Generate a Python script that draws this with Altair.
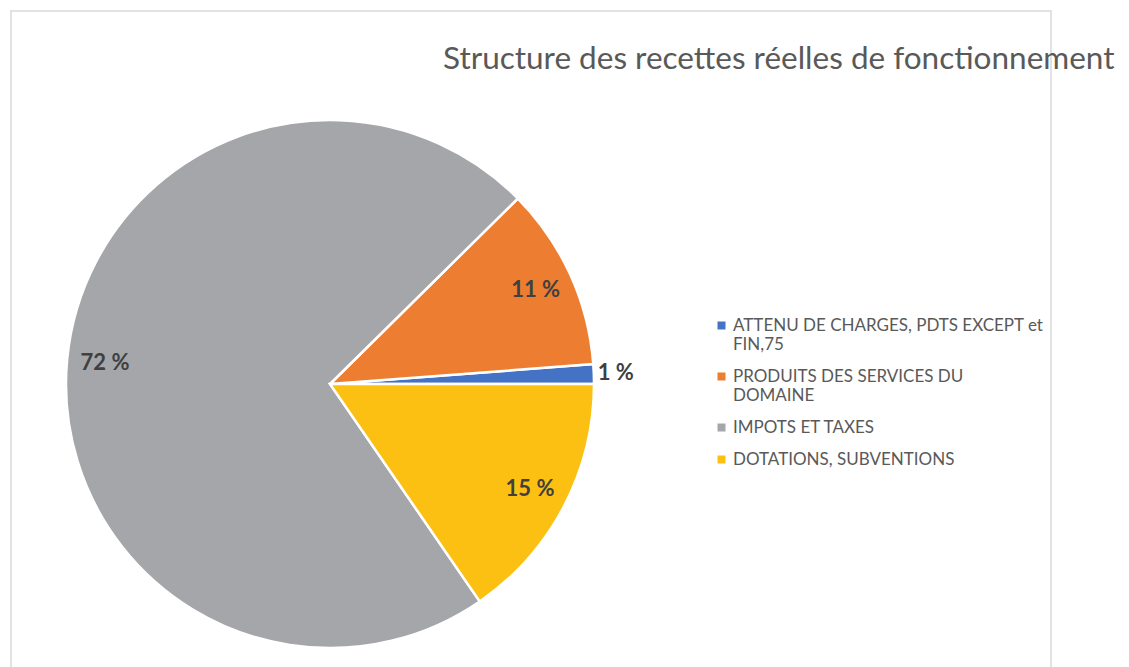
import math
import altair as alt
import pandas as pd

# ---- data ----
categories = [
    "ATTENU DE CHARGES, PDTS EXCEPT et\nFIN,75",
    "PRODUITS DES SERVICES DU\nDOMAINE",
    "IMPOTS ET TAXES",
    "DOTATIONS, SUBVENTIONS",
]
shares = [1.2, 11.2, 72.2, 15.4]          # percent
draw_order = [4, 3, 2, 1]                  # clockwise from 3 o'clock
colors = ["#4472C4", "#ED7D31", "#A5A6A9", "#FCC013"]
title_text = "Structure des recettes réelles de fonctionnement"

df = pd.DataFrame({"category": categories, "share": shares, "draw": draw_order})

W, H = 1113, 659
CX, CY = 322, 376          # pie centre in view coords
R = 264
START = math.pi / 2        # first slice starts at 3 o'clock

theta = alt.Theta("share:Q", stack=True,
                  scale=alt.Scale(range=[START, START + 2 * math.pi]))
color_scale = alt.Scale(domain=categories, range=colors)

pie = alt.Chart(df).mark_arc(outerRadius=R, stroke="white", strokeWidth=2.5, x=CX, y=CY).encode(
    theta=theta,
    order=alt.Order("draw:Q"),
    color=alt.Color(
        "category:N",
        scale=color_scale,
        legend=alt.Legend(
            title=None,
            orient="none",
            legendX=705,
            legendY=309,
            padding=0,
            symbolType="square",
            symbolSize=64,
            symbolStrokeWidth=0,
            labelFont="Lato",
            labelFontSize=17,
            labelColor="#595959",
            labelLimit=0,
            labelOffset=3,
            rowPadding=14,
            labelExpr="split(datum.label, '\\n')",
        ),
    ),
)

labels = alt.Chart(df).transform_window(
    cum="sum(share)", sort=[alt.SortField("draw")], frame=[None, 0]
).transform_joinaggregate(
    total="sum(share)"
).transform_calculate(
    ang=f"{START} + 2 * PI * (datum.cum - datum.share / 2) / datum.total",
    lab="format(datum.share, '.0f') + ' %'",
    rad="datum.share < 5 ? 286 : 226",
).mark_text(
    x=CX, y=CY, font="Lato", fontWeight="bold", fontSize=22,
    align="center", baseline="middle", color="#404040",
).encode(
    text="lab:N",
    theta=alt.Theta("ang:Q", scale=None, stack=None),
    radius=alt.Radius("rad:Q", scale=None),
)

one = pd.DataFrame({"t": [title_text]})

frame = alt.Chart(one).mark_rect(fill=None, stroke="#d9d9d9", strokeWidth=1.5).encode(
    x=alt.value(3), x2=alt.value(1043), y=alt.value(3), y2=alt.value(720)
)

title = alt.Chart(one).mark_text(
    font="Lato", fontSize=31.5, color="#595959", align="left", baseline="alphabetic"
).encode(text="t:N", x=alt.value(435), y=alt.value(61))

chart = alt.layer(frame, pie, labels, title).properties(
    width=W, height=H, autosize="none", padding=0
).configure_view(stroke=None)

chart.save("out.html", embed_options={"renderer": "svg", "actions": False})
